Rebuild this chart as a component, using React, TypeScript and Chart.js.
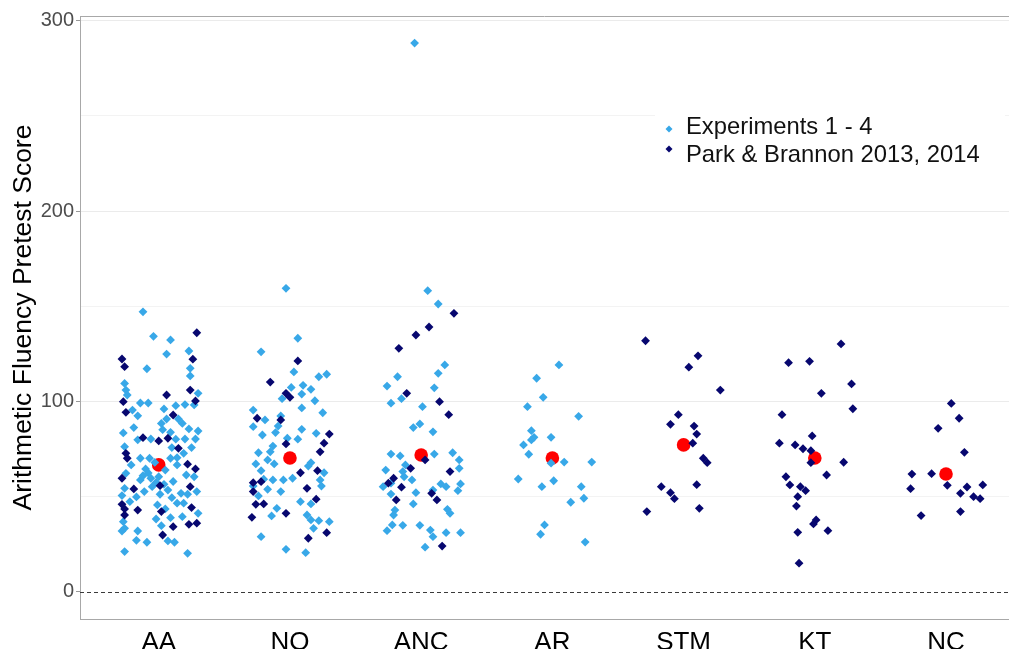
import React, { useEffect, useRef } from 'react';
import { Chart, registerables } from 'chart.js';

Chart.register(...registerables);

const categories = ['AA', 'NO', 'ANC', 'AR', 'STM', 'KT', 'NC'];
const groupNames = ['Experiments 1 - 4', 'Park & Brannon 2013, 2014'];
const yTickValues = [0, 50, 100, 150, 200, 250, 300];
const yLabelled = [0, 100, 200, 300];
const yAxisTitle = 'Arithmetic Fluency Pretest Score';
const categoryMeans = [66.7, 70.3, 71.9, 70.3, 77.2, 70.3, 61.9];

// Each point: [horizontal jitter in category units, score]
const AA_exp: [number, number][] = [
  [-0.12, 147.1], [-0.04, 134.2], [0.09, 132.3], [0.06, 124.9], [0.23, 126.5], [-0.09, 117.2], [0.24, 117.4],
  [0.24, 113.4], [-0.26, 109.5], [-0.25, 106], [-0.24, 103.4], [0.3, 104.3], [-0.14, 99.2], [-0.08, 99.2],
  [-0.2, 95.5], [0.04, 96.1], [0.13, 97.8], [0.2, 98.4], [0.27, 98.2], [-0.16, 92.5], [0.15, 90.8], [0.06, 90.8],
  [0.02, 88.5], [0.18, 88.5], [-0.19, 86.3], [0.23, 85.6], [0.3, 84.5], [-0.27, 83.5], [0.03, 85.2], [0.09, 83.8],
  [-0.16, 79.9], [-0.06, 80.3], [0.13, 80.2], [0.2, 80.3], [0.28, 80.3], [-0.26, 76.3], [0.1, 75.8], [0.25, 75.8],
  [0.19, 72.8], [-0.14, 70.2], [-0.07, 70.2], [0.14, 70.5], [0.09, 70.2], [0.14, 66.7], [-0.21, 66.7], [-0.1, 64.6],
  [-0.25, 62.3], [0.21, 61.4], [0.27, 60.5], [-0.06, 59.7], [0.0, 60.5], [-0.14, 58.8], [-0.05, 55.3], [0.04, 56.5],
  [-0.26, 54.4], [-0.11, 52.7], [0.01, 51.3], [0.17, 51.8], [0.22, 51.3], [0.29, 52.7], [-0.28, 50.6], [-0.17, 49.9],
  [0.1, 49.5], [-0.22, 47.4], [-0.01, 45.7], [0.14, 46.6], [0.19, 46.6], [0.05, 43.6], [0.3, 41.3], [-0.02, 38.3],
  [0.09, 39], [0.18, 39.5], [-0.27, 36.9], [0.02, 34.8], [-0.26, 33.4], [-0.28, 32], [-0.16, 32], [0.07, 26.8],
  [0.12, 26.1], [-0.17, 27.1], [-0.09, 26.1], [-0.26, 21.2], [0.22, 20.3],
  [-0.08, 62.5], [0.05, 64.0], [-0.02, 57.5], [0.11, 58.0], [-0.12, 61.0], [0.07, 53.5], [-0.03, 68.0],
];
const AA_pb: [number, number][] = [
  [0.29, 136.1], [-0.28, 122.3], [-0.26, 118.3], [0.26, 122.2], [0.24, 106], [0.06, 103.4], [-0.27, 99.9],
  [0.28, 100.3], [-0.25, 94.3], [0.11, 92.9], [-0.12, 81], [0.0, 79.3], [0.07, 80.7], [0.15, 75.4], [-0.25, 72.8],
  [-0.24, 70.2], [0.22, 67.1], [0.28, 64.6], [-0.28, 59.7], [0.01, 55.8], [0.24, 55.3], [-0.19, 54.1], [-0.28, 46],
  [0.25, 44.3], [-0.26, 43.6], [-0.16, 43], [0.02, 42.2], [-0.26, 40.4], [0.11, 34.3], [0.23, 35.5], [0.29, 36.1],
  [0.03, 29.9],
];
const NO_exp: [number, number][] = [
  [-0.03, 159.4], [0.06, 133.2], [-0.22, 126.1], [0.28, 114.3], [0.22, 113], [0.03, 115.5], [0.1, 108.5], [0.01, 107.4],
  [0.16, 106.4], [0.09, 103.9], [-0.06, 101.5], [0.19, 100.4], [-0.28, 95.5], [0.09, 96.6], [0.25, 94.1], [-0.19, 90.3],
  [-0.07, 92.4], [-0.28, 86.8], [-0.09, 87.1], [0.09, 85.4], [-0.21, 82.4], [-0.11, 83.7], [-0.02, 80.7], [0.06, 80.2],
  [0.2, 83.3], [-0.13, 76.6], [-0.24, 73.1], [-0.15, 73.6], [-0.17, 69.3], [-0.26, 67.2], [-0.12, 67.2], [0.16, 67.9],
  [0.14, 66.1], [0.26, 62.6], [-0.22, 63.7], [-0.2, 59.2], [-0.13, 58.8], [-0.05, 58.8], [0.02, 59.7], [0.23, 58.8],
  [-0.07, 52.7], [-0.28, 55.6], [-0.17, 53.9], [0.24, 55.6], [-0.24, 50.4], [0.08, 47.4], [0.16, 46.2], [-0.1, 43.9],
  [-0.14, 39.9], [0.13, 40.4], [0.16, 37.8], [0.22, 37.4], [0.3, 36.9], [0.18, 33.4], [-0.22, 29], [-0.03, 22.4],
  [0.12, 20.6],
];
const NO_pb: [number, number][] = [
  [0.06, 121.3], [-0.15, 110.2], [-0.03, 104.3], [0.0, 102.2], [-0.25, 91.2], [-0.07, 90.3], [0.3, 82.9], [0.26, 78.1],
  [-0.03, 77.7], [0.23, 73.6], [0.08, 62.6], [0.21, 63.7], [-0.28, 57.4], [-0.22, 57.9], [0.13, 54.4], [-0.28, 52.7],
  [0.2, 48.7], [-0.26, 46], [-0.2, 46.2], [-0.03, 41.3], [-0.29, 39.2], [0.28, 31.1], [0.14, 28.2],
];
const ANC_exp: [number, number][] = [
  [-0.05, 288.2], [0.05, 158.2], [0.13, 151.2], [0.18, 119.2], [0.13, 114.8], [-0.18, 113], [-0.26, 108.1], [0.1, 107.2],
  [-0.15, 101.5], [-0.23, 99.1], [0.01, 97.3], [-0.01, 88.2], [-0.06, 86.3], [0.09, 84.1], [-0.23, 72.4], [-0.16, 71.4],
  [0.1, 72.4], [0.24, 73.1], [0.29, 69.3], [-0.12, 66.7], [-0.27, 64], [-0.14, 63.2], [0.29, 64.9], [-0.13, 60.5],
  [-0.07, 58.8], [-0.23, 57.1], [-0.29, 55.3], [0.15, 56.7], [0.19, 55.3], [0.3, 56.7], [-0.04, 52.1], [0.09, 53.5],
  [0.28, 53.2], [-0.23, 51.4], [-0.06, 46.2], [-0.2, 43], [0.2, 43.4], [-0.21, 40.4], [0.22, 41.3], [-0.22, 35.2],
  [-0.14, 35], [-0.26, 32.2], [-0.01, 35], [0.07, 32.5], [0.09, 29], [0.19, 31.1], [0.3, 31.1], [0.03, 23.5],
];
const ANC_pb: [number, number][] = [
  [0.25, 146.3], [0.06, 139.1], [-0.04, 134.9], [-0.17, 127.9], [-0.11, 104.3], [0.14, 99.9], [0.21, 93.1],
  [0.03, 69.3], [-0.08, 64.9], [0.22, 63.2], [-0.21, 59.7], [-0.15, 55], [-0.25, 57.1], [0.08, 51.8], [-0.19, 48.3],
  [0.12, 48.3], [0.16, 24.1],
];
const AR_exp: [number, number][] = [
  [0.05, 119.2], [-0.12, 112.2], [-0.07, 102.2], [-0.19, 97.3], [0.2, 92.2], [-0.16, 84.7], [-0.14, 81.2], [-0.01, 81.2],
  [-0.16, 79.8], [-0.22, 77.2], [-0.18, 72.3], [0.09, 68.2], [0.3, 68.2], [-0.01, 67.6], [-0.26, 59.3], [0.01, 58.4],
  [-0.08, 55.3], [0.22, 55.3], [0.24, 49.2], [0.14, 47.1], [-0.06, 35.2], [-0.09, 30.3], [0.25, 26.2],
];
const AR_pb: [number, number][] = [];
const STM_exp: [number, number][] = [];
const STM_pb: [number, number][] = [
  [-0.29, 131.9], [0.11, 124], [0.04, 118], [0.28, 106], [-0.04, 93.1], [-0.1, 88], [0.08, 87.1], [0.1, 82.9],
  [0.07, 78.1], [0.15, 70.2], [0.18, 67.9], [-0.17, 55.3], [0.1, 56.3], [-0.1, 52.1], [-0.07, 49], [0.12, 43.9],
  [-0.28, 42.2],
];
const KT_exp: [number, number][] = [];
const KT_pb: [number, number][] = [
  [0.2, 130.2], [-0.2, 120.4], [-0.04, 121.1], [0.28, 109.2], [0.05, 104.3], [0.29, 96.2], [-0.25, 93.1], [-0.02, 81.9],
  [-0.27, 78.1], [-0.15, 77.2], [-0.09, 75.2], [-0.03, 74.2], [-0.03, 67.9], [0.22, 68.1], [0.09, 61.4], [-0.22, 60.5],
  [-0.19, 56.2], [-0.11, 55.3], [-0.07, 53.2], [-0.13, 50], [-0.14, 45.1], [0.01, 37.8], [-0.01, 35.7], [0.1, 32.2],
  [-0.13, 31.3], [-0.12, 15.1],
];
const NC_exp: [number, number][] = [];
const NC_pb: [number, number][] = [
  [0.04, 99], [0.1, 91.2], [-0.06, 85.9], [0.14, 73.3], [-0.26, 61.9], [-0.11, 62.1], [-0.27, 54.2], [0.01, 56],
  [0.16, 55.1], [0.28, 56.2], [0.11, 51.8], [0.21, 50], [0.26, 49], [-0.19, 40.1], [0.11, 42.2],
];

const expByCategory = [AA_exp, NO_exp, ANC_exp, AR_exp, STM_exp, KT_exp, NC_exp];
const pbByCategory = [AA_pb, NO_pb, ANC_pb, AR_pb, STM_pb, KT_pb, NC_pb];

const FONT = "'Liberation Sans', Arial, Helvetica, sans-serif";
const LIGHT = '#38a8e8';
const DARK = '#07076f';
const AXIS = '#a8a8a8';

function toPoints(groups: [number, number][][]) {
  const out: { x: number; y: number }[] = [];
  groups.forEach((pts, i) => pts.forEach(([j, v]) => out.push({ x: i + 1 + j, y: v })));
  return out;
}

function diamond(ctx: CanvasRenderingContext2D, x: number, y: number, r: number, color: string) {
  ctx.fillStyle = color;
  ctx.beginPath();
  ctx.moveTo(x, y - r);
  ctx.lineTo(x + r, y);
  ctx.lineTo(x, y + r);
  ctx.lineTo(x - r, y);
  ctx.closePath();
  ctx.fill();
}

const decorPlugin = {
  id: 'decor',
  beforeDatasetsDraw(chart: any) {
    const { ctx, chartArea, scales } = chart;
    const y0 = Math.round(scales.y.getPixelForValue(0)) + 0.5;
    ctx.save();
    ctx.strokeStyle = '#3a3a3a';
    ctx.lineWidth = 1;
    ctx.setLineDash([4, 3]);
    ctx.beginPath();
    ctx.moveTo(chartArea.left, y0);
    ctx.lineTo(chartArea.right, y0);
    ctx.stroke();
    ctx.setLineDash([]);
    ctx.strokeStyle = AXIS;
    ctx.beginPath();
    ctx.moveTo(chartArea.left, chartArea.top + 0.5);
    ctx.lineTo(chartArea.right, chartArea.top + 0.5);
    ctx.stroke();
    ctx.restore();
  },
  afterDatasetsDraw(chart: any) {
    const { ctx } = chart;
    ctx.save();
    ctx.fillStyle = '#ffffff';
    ctx.fillRect(655, 106, 350, 66);
    diamond(ctx, 669, 129, 3.5, LIGHT);
    diamond(ctx, 669, 149, 3.5, DARK);
    ctx.fillStyle = '#111';
    ctx.font = `23.8px ${FONT}`;
    ctx.textBaseline = 'alphabetic';
    ctx.textAlign = 'left';
    ctx.fillText(groupNames[0], 686, 134);
    ctx.fillText(groupNames[1], 686, 162);
    ctx.restore();
  },
};

export default function App() {
  const ref = useRef<HTMLCanvasElement>(null);
  useEffect(() => {
    if (!ref.current) return;
    const chart = new Chart(ref.current, {
      type: 'scatter',
      data: {
        datasets: [
          {
            label: groupNames[1],
            data: toPoints(pbByCategory),
            pointStyle: 'rectRot',
            pointRadius: 4.4,
            pointBorderWidth: 0,
            backgroundColor: DARK,
            borderColor: DARK,
          },
          {
            label: groupNames[0],
            data: toPoints(expByCategory),
            pointStyle: 'rectRot',
            pointRadius: 4.4,
            pointBorderWidth: 0,
            backgroundColor: LIGHT,
            borderColor: LIGHT,
          },
          {
            label: 'Mean',
            data: categoryMeans.map((m, i) => ({ x: i + 1, y: m })),
            pointStyle: 'circle',
            pointRadius: 6.8,
            pointBorderWidth: 0,
            backgroundColor: '#ff0000',
            borderColor: '#ff0000',
          },
        ],
      },
      options: {
        animation: false,
        responsive: false,
        events: [],
        layout: { autoPadding: false, padding: { top: 16, left: 0, right: 0, bottom: 0 } },
        plugins: { legend: { display: false }, tooltip: { enabled: false } },
        scales: {
          x: {
            type: 'linear',
            min: 0.4,
            max: 7.48,
            afterBuildTicks: (s: any) => {
              s.ticks = categories.map((_, i) => ({ value: i + 1 }));
            },
            afterFit: (s: any) => {
              s.height = 30;
            },
            grid: { display: false },
            border: { display: true, color: AXIS, width: 1 },
            ticks: {
              autoSkip: false,
              maxRotation: 0,
              padding: 0,
              color: '#000',
              font: { family: FONT, size: 26 },
              callback: (v: any) => categories[Math.round(Number(v)) - 1] ?? '',
            },
          },
          y: {
            type: 'linear',
            min: -14.2,
            max: 302.4,
            afterBuildTicks: (s: any) => {
              s.ticks = yTickValues.map((v) => ({ value: v }));
            },
            afterFit: (s: any) => {
              s.width = 80;
            },
            grid: {
              color: (c: any) => {
                const v = c.tick?.value;
                if (v === 0) return 'rgba(0,0,0,0)';
                return v % 100 === 0 ? '#ebebeb' : '#f3f3f3';
              },
              lineWidth: 1,
              tickLength: 4,
              tickColor: (c: any) => (yLabelled.includes(c.tick?.value) ? '#999' : 'rgba(0,0,0,0)'),
            },
            border: { display: true, color: AXIS, width: 1 },
            ticks: {
              padding: 2,
              color: '#4d4d4d',
              font: { family: FONT, size: 20 },
              callback: (v: any) => (yLabelled.includes(Number(v)) ? String(v) : ''),
            },
            title: {
              display: true,
              text: yAxisTitle,
              color: '#000',
              font: { family: FONT, size: 26.5 },
              padding: { top: 8, bottom: 0 },
            },
          },
        },
      },
      plugins: [decorPlugin],
    });
    return () => chart.destroy();
  }, []);
  return (
    <div style={{ position: 'absolute', left: 0, top: 0, width: 1009, height: 649, background: '#fff' }}>
      <canvas ref={ref} width={1009} height={649} style={{ display: 'block', width: 1009, height: 649 }} />
    </div>
  );
}
